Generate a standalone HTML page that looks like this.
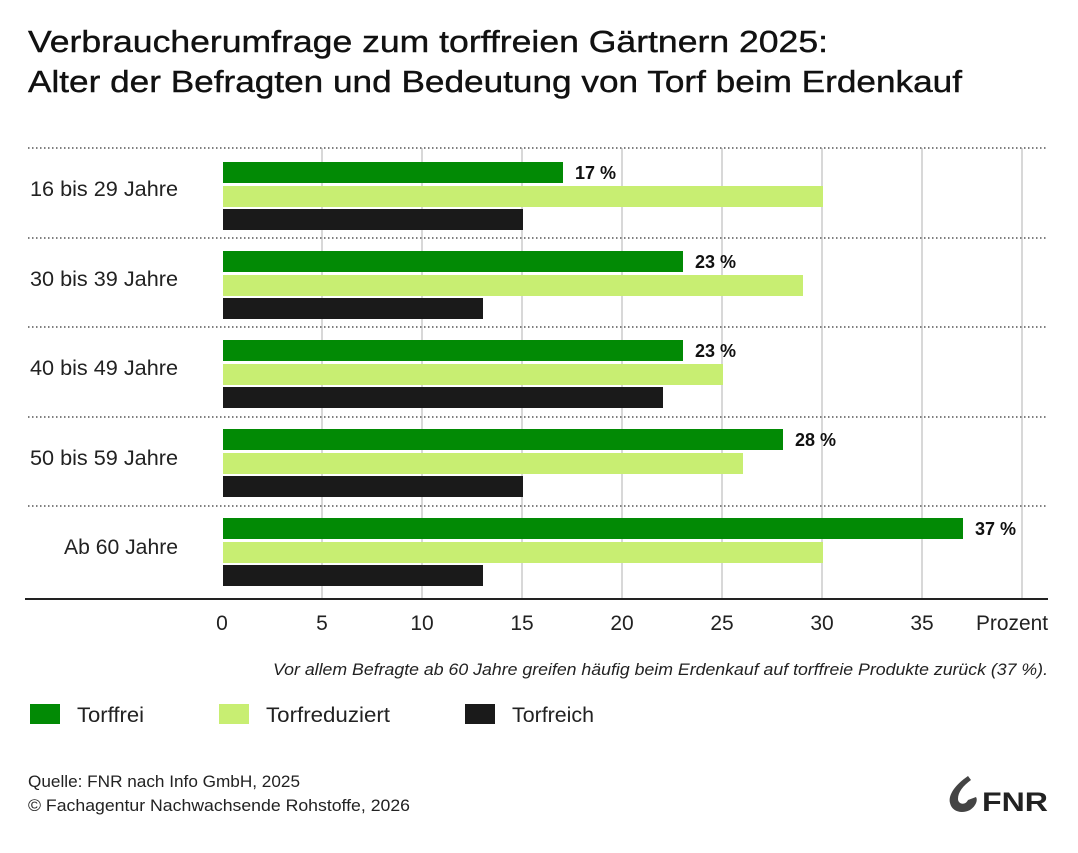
<!DOCTYPE html>
<html><head><meta charset="utf-8"><style>body{margin:0;background:#fff}svg{display:block}text{font-family:"Liberation Sans",sans-serif}</style></head><body>
<svg width="1078" height="853" viewBox="0 0 1078 853" xmlns="http://www.w3.org/2000/svg">
<rect width="1078" height="853" fill="#fff"/>
<text x="28" y="52" font-size="31" fill="#111" stroke="#111" stroke-width="0.4" textLength="800" lengthAdjust="spacingAndGlyphs">Verbraucherumfrage zum torffreien Gärtnern 2025:</text>
<text x="28" y="92" font-size="31" fill="#111" stroke="#111" stroke-width="0.4" textLength="934" lengthAdjust="spacingAndGlyphs">Alter der Befragten und Bedeutung von Torf beim Erdenkauf</text>
<g stroke="#ccc" stroke-width="1.5">
<line x1="322" y1="148" x2="322" y2="598"/><line x1="422" y1="148" x2="422" y2="598"/><line x1="522" y1="148" x2="522" y2="598"/><line x1="622" y1="148" x2="622" y2="598"/><line x1="722" y1="148" x2="722" y2="598"/><line x1="822" y1="148" x2="822" y2="598"/><line x1="922" y1="148" x2="922" y2="598"/><line x1="1022" y1="148" x2="1022" y2="598"/>
</g>
<g stroke="#555" stroke-width="1.5" stroke-dasharray="1.5,2.5">
<line x1="28" y1="148" x2="1048" y2="148"/><line x1="28" y1="238" x2="1048" y2="238"/><line x1="28" y1="327" x2="1048" y2="327"/><line x1="28" y1="417" x2="1048" y2="417"/><line x1="28" y1="506" x2="1048" y2="506"/>
</g>
<g font-size="21" fill="#222" text-anchor="end">
<text x="178" y="196" textLength="148" lengthAdjust="spacingAndGlyphs">16 bis 29 Jahre</text><text x="178" y="286" textLength="148" lengthAdjust="spacingAndGlyphs">30 bis 39 Jahre</text><text x="178" y="375" textLength="148" lengthAdjust="spacingAndGlyphs">40 bis 49 Jahre</text><text x="178" y="465" textLength="148" lengthAdjust="spacingAndGlyphs">50 bis 59 Jahre</text><text x="178" y="554" textLength="114" lengthAdjust="spacingAndGlyphs">Ab 60 Jahre</text>
</g>
<g>
<rect x="223" y="162" width="340" height="21" fill="#028a05"/><rect x="223" y="186" width="600" height="21" fill="#c8ee72"/><rect x="223" y="209" width="300" height="21" fill="#1a1a1a"/>
<rect x="223" y="251" width="460" height="21" fill="#028a05"/><rect x="223" y="275" width="580" height="21" fill="#c8ee72"/><rect x="223" y="298" width="260" height="21" fill="#1a1a1a"/>
<rect x="223" y="340" width="460" height="21" fill="#028a05"/><rect x="223" y="364" width="500" height="21" fill="#c8ee72"/><rect x="223" y="387" width="440" height="21" fill="#1a1a1a"/>
<rect x="223" y="429" width="560" height="21" fill="#028a05"/><rect x="223" y="453" width="520" height="21" fill="#c8ee72"/><rect x="223" y="476" width="300" height="21" fill="#1a1a1a"/>
<rect x="223" y="518" width="740" height="21" fill="#028a05"/><rect x="223" y="542" width="600" height="21" fill="#c8ee72"/><rect x="223" y="565" width="260" height="21" fill="#1a1a1a"/>
</g>
<g font-size="18" font-weight="bold" fill="#111">
<text x="575" y="179">17 %</text><text x="695" y="268">23 %</text><text x="695" y="357">23 %</text><text x="795" y="446">28 %</text><text x="975" y="535">37 %</text>
</g>
<line x1="25" y1="599" x2="1048" y2="599" stroke="#222" stroke-width="2"/>
<g font-size="21" fill="#222" text-anchor="middle">
<text x="222" y="630">0</text><text x="322" y="630">5</text><text x="422" y="630">10</text><text x="522" y="630">15</text><text x="622" y="630">20</text><text x="722" y="630">25</text><text x="822" y="630">30</text><text x="922" y="630">35</text><text x="1012" y="630" textLength="72" lengthAdjust="spacingAndGlyphs">Prozent</text>
</g>
<text x="1048" y="675" font-size="17" font-style="italic" fill="#222" text-anchor="end" textLength="775" lengthAdjust="spacingAndGlyphs">Vor allem Befragte ab 60 Jahre greifen häufig beim Erdenkauf auf torffreie Produkte zurück (37 %).</text>
<rect x="30" y="704" width="30" height="20" fill="#028a05"/><text x="77" y="722" font-size="21" fill="#222" textLength="67" lengthAdjust="spacingAndGlyphs">Torffrei</text>
<rect x="219" y="704" width="30" height="20" fill="#c8ee72"/><text x="266" y="722" font-size="21" fill="#222" textLength="124" lengthAdjust="spacingAndGlyphs">Torfreduziert</text>
<rect x="465" y="704" width="30" height="20" fill="#1a1a1a"/><text x="512" y="722" font-size="21" fill="#222" textLength="82" lengthAdjust="spacingAndGlyphs">Torfreich</text>
<text x="28" y="787" font-size="17" fill="#222" textLength="272" lengthAdjust="spacingAndGlyphs">Quelle: FNR nach Info GmbH, 2025</text>
<text x="28" y="811" font-size="17" fill="#222" textLength="382" lengthAdjust="spacingAndGlyphs">© Fachagentur Nachwachsende Rohstoffe, 2026</text>
<path d="M968 776 C955 785 948 795 950 803 C952 812 962 814 970 810 C976 806 978 800 976 797 L968 800 C965 806 958 804 958 799 C958 792 963 786 971 780 Z" fill="#444"/>
<text x="982" y="811" font-size="27" font-weight="bold" fill="#222" textLength="66" lengthAdjust="spacingAndGlyphs">FNR</text>
</svg>
</body></html>
